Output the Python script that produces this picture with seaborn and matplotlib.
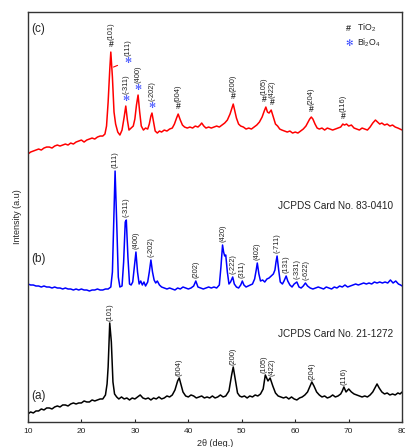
import numpy as np
import pandas as pd
import matplotlib
matplotlib.use("Agg")
import matplotlib.pyplot as plt
import seaborn as sns


# XRD SCANS (2theta in deg, intensity in a.u. with offsets)
a_scan = [(10.0, 8), (10.5, 10), (11.0, 9), (11.5, 11), (12.0, 11), (12.5, 13), (13.0, 12), (13.5, 14),
          (14.0, 14), (14.5, 13), (15.0, 15), (15.5, 16), (16.0, 15), (16.5, 17), (17.0, 17), (17.5, 16),
          (18.0, 18), (18.5, 19), (19.0, 18), (19.5, 19), (20.0, 19), (20.5, 21), (21.0, 20), (21.5, 20),
          (22.0, 22), (22.5, 21), (23.0, 22), (23.5, 23), (24.0, 23), (24.5, 27), (24.8, 38), (25.0, 55),
          (25.3, 99), (25.6, 80), (25.9, 40), (26.2, 28), (26.6, 25), (27.0, 23), (27.5, 25), (28.0, 23),
          (28.5, 24), (29.0, 22), (29.5, 24), (30.0, 23), (30.5, 25), (31.0, 27), (31.5, 24), (32.0, 23),
          (32.5, 24), (33.0, 22), (33.5, 24), (34.0, 23), (34.5, 25), (35.0, 23), (35.5, 24), (36.0, 26),
          (36.5, 25), (37.0, 27), (37.5, 32), (38.0, 41), (38.3, 44), (38.6, 38), (39.0, 30), (39.5, 26),
          (40.0, 25), (40.5, 27), (41.0, 26), (41.5, 24), (42.0, 25), (42.5, 26), (43.0, 24), (43.5, 25),
          (44.0, 24), (44.5, 26), (45.0, 24), (45.5, 25), (46.0, 27), (46.5, 25), (47.0, 26), (47.6, 31),
          (48.1, 47), (48.4, 55), (48.8, 42), (49.2, 29), (49.6, 26), (50.0, 25), (50.5, 26), (51.0, 24),
          (51.5, 26), (52.0, 25), (52.5, 27), (53.0, 26), (53.5, 28), (54.0, 33), (54.4, 47), (54.9, 41),
          (55.3, 44), (55.8, 36), (56.3, 29), (56.8, 26), (57.3, 25), (57.8, 24), (58.3, 25), (58.8, 23),
          (59.3, 25), (59.8, 23), (60.3, 22), (60.8, 24), (61.3, 25), (61.8, 27), (62.3, 30), (62.7, 35),
          (63.1, 40), (63.5, 36), (64.0, 30), (64.5, 27), (65.0, 25), (65.5, 26), (66.0, 24), (66.5, 25),
          (67.0, 27), (67.5, 25), (68.0, 26), (68.5, 28), (68.8, 31), (69.1, 35), (69.5, 30), (70.0, 33),
          (70.5, 30), (71.0, 28), (71.5, 27), (72.0, 26), (72.5, 25), (73.0, 26), (73.5, 25), (74.0, 27),
          (74.5, 30), (75.0, 35), (75.3, 38), (75.7, 34), (76.2, 30), (76.7, 28), (77.2, 29), (77.7, 27),
          (78.2, 28), (78.7, 27), (79.2, 29), (79.6, 28), (80.0, 30)]

b_scan = [(10.0, 138), (10.5, 137), (11.0, 137), (11.5, 136), (12.0, 136), (12.5, 135), (13.0, 136),
          (13.5, 135), (14.0, 135), (14.5, 134), (15.0, 135), (15.5, 134), (16.0, 134), (16.5, 133),
          (17.0, 134), (17.5, 133), (18.0, 133), (18.5, 132), (19.0, 133), (19.5, 132), (20.0, 133),
          (20.5, 132), (21.0, 132), (21.5, 131), (22.0, 132), (22.5, 132), (23.0, 133), (23.5, 132),
          (24.0, 132), (24.5, 133), (25.0, 133), (25.5, 135), (25.8, 150), (26.0, 190), (26.3, 251),
          (26.6, 200), (26.9, 145), (27.2, 135), (27.6, 136), (27.9, 160), (28.2, 200), (28.4, 202),
          (28.7, 165), (29.0, 138), (29.3, 137), (29.6, 140), (29.9, 155), (30.2, 170), (30.5, 150),
          (30.8, 138), (31.1, 141), (31.4, 137), (31.7, 140), (32.0, 136), (32.4, 140), (32.7, 150),
          (33.0, 162), (33.3, 150), (33.6, 142), (33.9, 139), (34.2, 141), (34.6, 137), (35.0, 135),
          (35.5, 134), (36.0, 133), (36.5, 134), (37.0, 133), (37.5, 132), (38.0, 134), (38.5, 133),
          (39.0, 135), (39.5, 134), (40.0, 133), (40.5, 134), (41.0, 136), (41.4, 141), (41.8, 135),
          (42.3, 134), (42.8, 133), (43.3, 134), (43.8, 135), (44.3, 134), (44.8, 135), (45.3, 134),
          (45.8, 137), (46.1, 155), (46.4, 177), (46.6, 170), (46.8, 166), (47.0, 167), (47.3, 150),
          (47.6, 138), (47.9, 140), (48.3, 145), (48.6, 138), (49.0, 135), (49.4, 134), (49.8, 137),
          (50.1, 141), (50.4, 137), (50.8, 135), (51.2, 136), (51.6, 137), (52.0, 138), (52.4, 143),
          (52.7, 152), (52.9, 159), (53.2, 148), (53.5, 141), (53.9, 142), (54.3, 140), (54.7, 143),
          (55.1, 144), (55.5, 146), (55.9, 148), (56.2, 152), (56.4, 160), (56.6, 166), (56.9, 152),
          (57.2, 140), (57.6, 138), (57.9, 141), (58.3, 146), (58.6, 141), (59.0, 137), (59.4, 135),
          (59.8, 138), (60.3, 140), (60.7, 135), (61.1, 134), (61.5, 136), (61.9, 139), (62.3, 136),
          (62.8, 134), (63.3, 133), (63.8, 134), (64.3, 135), (64.8, 134), (65.3, 133), (65.8, 135),
          (66.3, 134), (66.8, 133), (67.3, 135), (67.8, 134), (68.3, 136), (68.8, 135), (69.3, 137),
          (69.8, 135), (70.3, 136), (70.8, 137), (71.3, 138), (71.8, 137), (72.3, 138), (72.8, 139),
          (73.3, 138), (73.8, 139), (74.3, 138), (74.8, 140), (75.3, 139), (75.8, 140), (76.3, 139),
          (76.8, 140), (77.3, 139), (77.8, 142), (78.3, 139), (78.8, 141), (79.3, 138), (79.7, 137),
          (80.0, 136)]

c_scan = [(10.0, 268), (10.5, 270), (11.0, 271), (11.5, 272), (12.0, 273), (12.5, 272), (13.0, 274),
          (13.5, 275), (14.0, 275), (14.5, 274), (15.0, 276), (15.5, 277), (16.0, 276), (16.5, 277),
          (17.0, 278), (17.5, 277), (18.0, 279), (18.5, 278), (19.0, 280), (19.5, 281), (20.0, 282),
          (20.5, 280), (21.0, 282), (21.5, 283), (22.0, 284), (22.5, 283), (23.0, 285), (23.5, 286),
          (24.0, 286), (24.4, 288), (24.7, 296), (25.0, 320), (25.3, 352), (25.5, 370), (25.8, 345),
          (26.1, 310), (26.4, 298), (26.8, 290), (27.2, 287), (27.6, 292), (28.0, 305), (28.3, 316),
          (28.6, 302), (28.9, 292), (29.3, 294), (29.7, 296), (30.0, 303), (30.3, 317), (30.6, 327),
          (30.9, 310), (31.2, 296), (31.6, 292), (32.0, 294), (32.4, 293), (32.7, 298), (33.0, 306),
          (33.2, 309), (33.5, 300), (33.8, 291), (34.2, 289), (34.6, 291), (35.0, 290), (35.5, 292),
          (36.0, 291), (36.5, 293), (37.0, 294), (37.4, 298), (37.8, 304), (38.1, 308), (38.5, 302),
          (38.9, 297), (39.3, 295), (39.8, 294), (40.3, 295), (40.8, 294), (41.3, 296), (41.8, 295),
          (42.2, 297), (42.5, 299), (42.9, 296), (43.3, 294), (43.8, 295), (44.3, 294), (44.8, 295),
          (45.3, 296), (45.8, 295), (46.3, 297), (46.8, 299), (47.3, 302), (47.8, 308), (48.1, 313),
          (48.4, 318), (48.7, 311), (49.0, 304), (49.4, 298), (49.8, 296), (50.3, 295), (50.8, 293),
          (51.3, 294), (51.8, 293), (52.3, 295), (52.8, 297), (53.3, 300), (53.8, 305), (54.2, 311),
          (54.5, 315), (54.8, 310), (55.1, 309), (55.5, 312), (55.9, 305), (56.3, 298), (56.7, 296),
          (57.1, 293), (57.5, 292), (58.0, 291), (58.5, 290), (59.0, 291), (59.5, 289), (60.0, 290),
          (60.5, 289), (61.0, 291), (61.5, 293), (62.0, 296), (62.4, 300), (62.7, 303), (63.0, 305),
          (63.3, 303), (63.7, 298), (64.1, 294), (64.5, 293), (65.0, 294), (65.5, 292), (66.0, 294),
          (66.5, 293), (67.0, 292), (67.5, 293), (68.0, 294), (68.5, 295), (68.9, 298), (69.2, 297),
          (69.6, 298), (70.0, 296), (70.5, 297), (71.0, 294), (71.5, 293), (72.0, 292), (72.5, 294),
          (73.0, 293), (73.5, 292), (74.0, 295), (74.5, 299), (75.0, 302), (75.4, 300), (75.8, 298),
          (76.2, 299), (76.7, 297), (77.2, 298), (77.7, 296), (78.2, 297), (78.7, 295), (79.2, 294),
          (79.6, 293), (80.0, 292)]


# PEAK INDEXING
a_peaks = [25.3, 38.3, 48.4, 54.2, 55.6, 63.1, 69.1]
a_hkl = ['(101)', '(004)', '(200)', '(105)', '(422)', '(204)', '(116)']

b_peaks = [26.3, 28.3, 30.2, 33.0, 41.4, 46.5, 48.3, 50.1, 52.9, 56.6, 58.3, 60.4, 62.0]
b_hkl = ['(111)', '(-311)', '(400)', '(-202)', '(202)', '(420)', '(-222)', '(311)',
         '(402)', '(-711)', '(131)', '(-331)', '(-622)']

c_ti_peaks = [25.5, 38.1, 48.4, 54.2, 55.7, 63.0, 69.0]
c_ti_hkl = ['(101)', '(004)', '(200)', '(105)', '(422)', '(204)', '(116)']
c_bi_peaks = [28.3, 30.6, 33.2]
c_bi_hkl = ['(-311)', '(400)', '(-202)']

x_ticks = [10, 20, 30, 40, 50, 60, 70, 80]


# STYLE
sns.set_style("ticks")
plt.rcParams['font.family'] = ['Liberation Sans', 'DejaVu Sans']
plt.rcParams['mathtext.default'] = 'regular'

fig = plt.figure(figsize=(4.05, 4.47), dpi=100)
ax = fig.add_axes([0.069, 0.056, 0.924, 0.917])


# CURVES
scans = {'a': (a_scan, 'black'), 'b': (b_scan, '#0000ff'), 'c': (c_scan, '#ff0000')}
frames = {}
for key, (scan, col) in scans.items():
    df = pd.DataFrame(scan, columns=['two_theta', 'intensity'])
    frames[key] = df
    sns.lineplot(data=df, x='two_theta', y='intensity', color=col,
                 lw=1.1, estimator=None, sort=False, ax=ax)


def peak_top(df, angle):
    near = df[(df['two_theta'] - angle).abs() <= 0.35]
    return near['intensity'].max()


def hkl_label(angle, y, text, dy):
    ax.annotate(text, (angle, y), xytext=(0, dy), textcoords='offset points',
                rotation=90, ha='center', va='bottom', fontsize=5.4, color='#222222')


# (a) and (b) labels
for ang, txt in zip(a_peaks, a_hkl):
    hkl_label(ang, peak_top(frames['a'], ang), txt, 1.5)

for ang, txt in zip(b_peaks, b_hkl):
    hkl_label(ang, peak_top(frames['b'], ang), txt, 2.0)

# (c) labels with phase marks
for ang, txt in zip(c_ti_peaks, c_ti_hkl):
    top = peak_top(frames['c'], ang)
    ax.annotate('#', (ang, top), xytext=(0, 2.5), textcoords='offset points',
                ha='center', va='bottom', fontsize=6.2, color='#333333', fontweight='bold')
    hkl_label(ang, top, txt, 9.0)

for ang, txt in zip(c_bi_peaks, c_bi_hkl):
    top = peak_top(frames['c'], ang)
    ax.annotate('✻', (ang, top), xytext=(0, 2.0), textcoords='offset points',
                ha='center', va='bottom', fontsize=6, color='#3344ff')
    hkl_label(ang, top, txt, 8.5)

# Bi (111) with leader line from the (101) peak
ax.annotate('✻', xy=(26.0, 355), xytext=(28.75, 361), ha='center', va='center',
            fontsize=6, color='#3344ff',
            arrowprops=dict(arrowstyle='-', color='red', lw=0.8, shrinkA=3, shrinkB=0))
hkl_label(28.75, 361, '(111)', 3.5)


# PANEL TEXT
ax.text(0.008, 0.959, '(c)', transform=ax.transAxes, fontsize=8.5, va='center')
ax.text(0.008, 0.398, '(b)', transform=ax.transAxes, fontsize=8.5, va='center')
ax.text(0.008, 0.063, '(a)', transform=ax.transAxes, fontsize=8.5, va='center')

ax.text(0.976, 0.527, 'JCPDS Card No. 83-0410', transform=ax.transAxes,
        fontsize=7.2, ha='right', va='center', color='#222222')
ax.text(0.976, 0.215, 'JCPDS Card No. 21-1272', transform=ax.transAxes,
        fontsize=7.2, ha='right', va='center', color='#222222')

# legend
ax.text(0.856, 0.961, '#', transform=ax.transAxes, fontsize=6.5, ha='center',
        va='center', color='#333333', fontweight='bold')
ax.text(0.878, 0.961, 'TiO$_2$', transform=ax.transAxes, fontsize=6.3, va='center')
ax.text(0.858, 0.924, '✻', transform=ax.transAxes, fontsize=6.5, ha='center',
        va='center', color='#3344ff')
ax.text(0.878, 0.924, 'Bi$_2$O$_4$', transform=ax.transAxes, fontsize=6.3, va='center')


# AXES
ax.set_xlim(10, 80)
ax.set_ylim(0, 410)
ax.set_xticks(x_ticks)
ax.set_yticks([])
ax.tick_params(axis='x', direction='in', length=2, pad=4, labelsize=6)
ax.set_xlabel('2θ (deg.)', fontsize=6.5, labelpad=3)
ax.set_ylabel('Intensity (a.u)', fontsize=6.5, labelpad=4)
for s in ax.spines.values():
    s.set_visible(True)
    s.set_linewidth(1.0)
    s.set_color('#333333')

fig.savefig('out.png', dpi=100)
